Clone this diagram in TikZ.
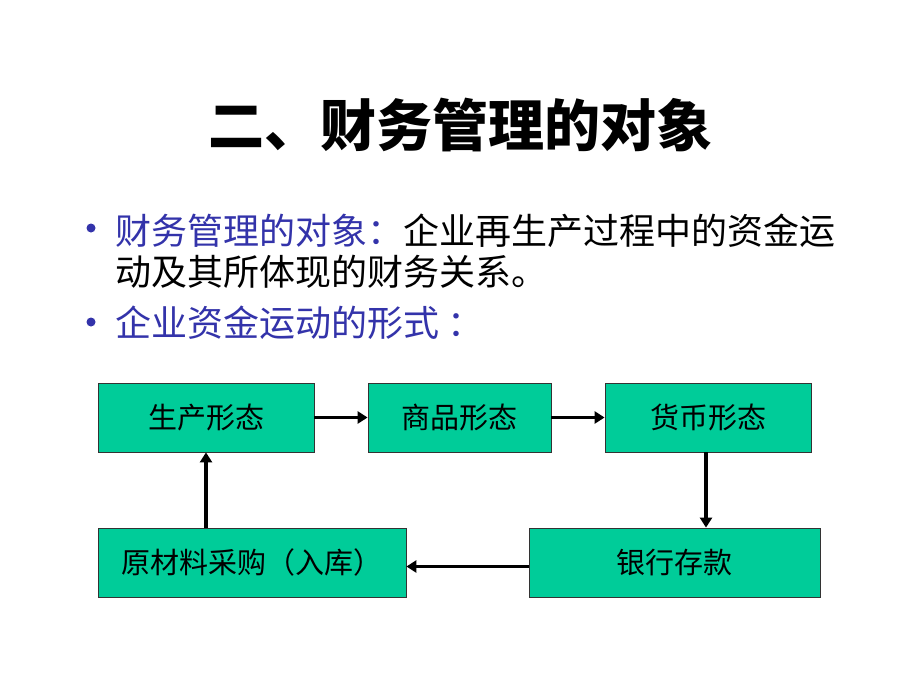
\documentclass[tikz,border=0pt]{standalone}
\usepackage{fontspec}
\setmainfont{Liberation Serif}
\newfontfamily\cjk{Noto Sans CJK SC}
\usetikzlibrary{arrows.meta}
\definecolor{boxgreen}{RGB}{0,204,153}
\definecolor{bulletblue}{RGB}{51,51,170}
\tikzset{
  flowbox/.style={draw=black!80, line width=0.8pt, fill=boxgreen, inner sep=0pt, font=\cjk\fontsize{29}{32}\selectfont},
  flowarrow/.style={line width=3.6pt, -{Triangle[length=10pt,width=12pt]}},
  bodytext/.style={inner sep=0pt, anchor=base west, font=\cjk\fontsize{36}{40}\selectfont}
}
\begin{document}
\begin{tikzpicture}[x=1pt,y=-1pt]
\useasboundingbox (0,0) rectangle (920,690);
\fill[white] (0,0) rectangle (920,690);
% title
\node[inner sep=0pt, font=\cjk\bfseries\fontsize{56}{60}\selectfont] (title) at (460,125) {二、财务管理的对象};
% bullets
\fill[bulletblue] (91,228) circle (4.5);
\fill[bulletblue] (91,322) circle (4.5);
\node[bodytext] (l1) at (115,244) {\textcolor{bulletblue}{财务管理的对象：}企业再生产过程中的资金运};
\node[bodytext] (l2) at (115,285) {动及其所体现的财务关系。};
\node[bodytext, text=bulletblue] (l3) at (115,336) {企业资金运动的形式 ：};
% boxes
\node[flowbox, minimum width=216, minimum height=69] (a) at (206,417.5) {生产形态};
\node[flowbox, minimum width=183, minimum height=69] (b) at (459.5,417.5) {商品形态};
\node[flowbox, minimum width=206, minimum height=69] (c) at (708,417.5) {货币形态};
\node[flowbox, minimum width=291, minimum height=69] (d) at (674.5,562.5) {银行存款};
\node[flowbox, minimum width=308, minimum height=69] (e) at (252,562.5) {原材料采购（入库）};
% arrows
\draw[flowarrow] (a) -- (b);
\draw[flowarrow] (b) -- (c);
\draw[flowarrow] ([xshift=-2pt]c.south) -- ([xshift=-2pt]c.south |- d.north);
\draw[flowarrow] ([yshift=-4pt]d.west) -- ([yshift=-4pt]e.east);
\draw[flowarrow] (a.south |- e.north) -- (a.south);
\end{tikzpicture}
\end{document}
